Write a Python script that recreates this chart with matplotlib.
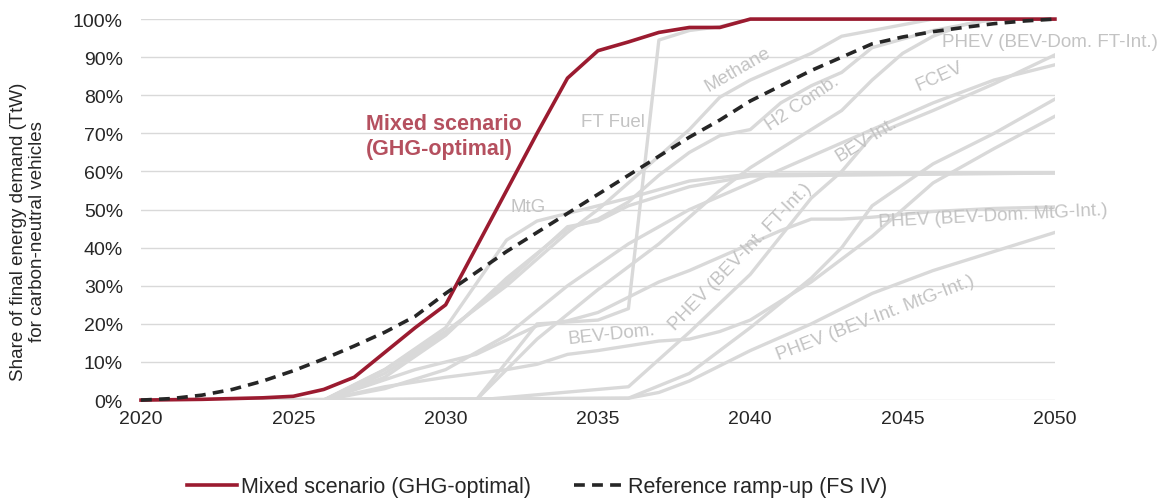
import matplotlib
matplotlib.use("Agg")
import matplotlib.pyplot as plt
from matplotlib.ticker import FuncFormatter

plt.rcParams['font.family'] = ['Liberation Sans', 'DejaVu Sans']

# --- data (share in %) ---
years = list(range(2020, 2051))
mixed = [0, 0.1, 0.2, 0.4, 0.6, 1.0, 2.8, 6.0, 12.5, 19, 25, 40, 55, 70, 84.5, 91.7,
         94, 96.5, 97.8, 97.8, 100, 100, 100, 100, 100, 100, 100, 100, 100, 100, 100]
reference = [0, 0.4, 1.3, 2.8, 5.0, 7.7, 10.8, 14.2, 17.8, 22, 28, 33.5, 39, 44, 49, 54,
             59, 64, 69, 73.5, 78.5, 82.5, 86.5, 90, 93.5, 95.3, 96.7, 97.8, 98.8, 99.5, 100]

ft_fuel_yr = [2020, 2031, 2033, 2035, 2036, 2037, 2038, 2039, 2040, 2050]
ft_fuel = [0, 0, 20, 21, 24, 94.5, 97, 98, 100, 100]

methane_yr = [2020, 2026, 2028, 2030, 2032, 2034, 2035, 2036, 2037, 2038, 2039, 2040, 2042, 2043, 2044, 2046, 2050]
methane = [0, 0, 8, 18, 30, 44, 50, 57, 64, 71, 79.5, 84, 91, 95.5, 97, 100, 100]

h2_comb_yr = [2020, 2026, 2028, 2030, 2032, 2034, 2035, 2036, 2037, 2038, 2039, 2040, 2041, 2042, 2043, 2044, 2046, 2048, 2050]
h2_comb = [0, 0, 6, 17, 32, 45, 47.5, 52, 59, 65, 69.4, 71, 78, 82.5, 86, 92.5, 97, 100, 100]

phev_dom_ft_yr = [2020, 2031, 2033, 2035, 2037, 2039, 2040, 2043, 2044, 2045, 2046, 2047, 2048, 2050]
phev_dom_ft = [0, 0, 16, 29, 41, 55, 61, 76, 84, 91, 95.5, 98.5, 100, 100]

fcev_yr = [2020, 2026, 2028, 2030, 2032, 2034, 2036, 2038, 2040, 2042, 2044, 2046, 2048, 2050]
fcev = [0, 0, 3, 8, 17, 30, 41, 50, 57, 64, 71, 78, 84, 88]

bev_int_yr = [2020, 2031, 2036, 2038, 2040, 2042, 2043, 2044, 2046, 2048, 2050]
bev_int = [0, 0, 3.5, 17.8, 33, 53, 60, 69.4, 76, 83, 90.6]

phev_int_ft_yr = [2020, 2026, 2036, 2038, 2040, 2042, 2043, 2044, 2046, 2048, 2050]
phev_int_ft = [0, 0, 0.5, 7, 19, 32, 40, 51, 62, 70, 79]

bev_dom_yr = [2020, 2026, 2028, 2030, 2032, 2033, 2034, 2035, 2037, 2038, 2039, 2040, 2042, 2044, 2046, 2048, 2050]
bev_dom = [0, 0, 3.5, 6, 8, 9.4, 12, 13, 15.5, 16, 18, 21, 31, 43, 57, 66, 74.5]

mtg_yr = [2020, 2026, 2028, 2030, 2032, 2033, 2034, 2036, 2038, 2040, 2050]
mtg = [0, 0, 8, 19, 42, 47, 49, 53, 57.5, 59.3, 59.6]

other_yr = [2020, 2026, 2028, 2030, 2032, 2034, 2035, 2036, 2038, 2040, 2050]
other = [0, 0, 7, 17.5, 31, 45.5, 47, 51, 56, 58.8, 59.6]

phev_dom_mtg_yr = [2020, 2026, 2029, 2031, 2033, 2034, 2035, 2036, 2037, 2038, 2040, 2041, 2042, 2043, 2044, 2046, 2048, 2050]
phev_dom_mtg = [0, 0, 8, 12, 19.5, 20.8, 23, 27, 31, 34, 41, 44.5, 47.5, 47.5, 48, 49.5, 50.3, 50.7]

phev_int_mtg_yr = [2020, 2036, 2037, 2038, 2040, 2042, 2044, 2046, 2048, 2050]
phev_int_mtg = [0, 0.5, 2, 5, 13, 20, 28, 34, 39, 44]

gray_series = [(ft_fuel_yr, ft_fuel), (methane_yr, methane), (h2_comb_yr, h2_comb),
               (phev_dom_ft_yr, phev_dom_ft), (fcev_yr, fcev), (bev_int_yr, bev_int),
               (phev_int_ft_yr, phev_int_ft), (bev_dom_yr, bev_dom), (mtg_yr, mtg),
               (other_yr, other), (phev_dom_mtg_yr, phev_dom_mtg), (phev_int_mtg_yr, phev_int_mtg)]

# label text, x, y, rotation, ha
gray_labels = [
    ("Methane", 2039.6, 86.9, 30, "center"),
    ("FT Fuel", 2035.5, 73.2, 0, "center"),
    ("MtG", 2032.7, 50.7, 0, "center"),
    ("H2 Comb.", 2041.7, 78.0, 34, "center"),
    ("FCEV", 2046.2, 85.0, 24, "center"),
    ("BEV-Int.", 2043.8, 68.5, 32, "center"),
    ("PHEV (BEV-Dom. FT-Int.)", 2046.3, 94.0, 0, "left"),
    ("PHEV (BEV-Dom. MtG-Int.)", 2044.2, 47.0, 3, "left"),
    ("PHEV (BEV-Int. FT-Int.)", 2039.66, 37.8, 46, "center"),
    ("BEV-Dom.", 2035.46, 17.3, 6, "center"),
    ("PHEV (BEV-Int. MtG-Int.)", 2044.1, 21.8, 21, "center"),
]

red = '#9b1b30'
gray = '#d9d9d9'
label_gray = '#c3c3c3'
dark = '#262626'

fig = plt.figure(figsize=(11.68, 5.02), dpi=100)
ax = fig.add_axes([0.1207, 0.201, 0.7825, 0.759])

for yr, vals in gray_series:
    ax.plot(yr, vals, color=gray, lw=2.4, solid_joinstyle='round', zorder=2)

ax.plot(years, mixed, color=red, lw=2.6, label='Mixed scenario (GHG-optimal)', zorder=4, clip_on=False)
ax.plot(years, reference, color=dark, lw=2.6, ls=(0, (3, 2)),
        label='Reference ramp-up (FS IV)', zorder=5, clip_on=False)

for txt, x, y, rot, ha in gray_labels:
    ax.text(x, y, txt, color=label_gray, fontsize=13.5, rotation=rot, ha=ha, va='center',
            rotation_mode='anchor', zorder=3)

ax.text(2027.38, 69.3, "Mixed scenario\n(GHG-optimal)", color='#b5505f', fontsize=15.5,
        fontweight='bold', ha='left', va='center', linespacing=1.2)

ax.set_xlim(2020, 2050)
ax.set_ylim(0, 100)
ax.set_xticks(range(2020, 2051, 5))
ax.set_yticks(range(0, 101, 10))
ax.yaxis.set_major_formatter(FuncFormatter(lambda v, p: f"{int(v)}%"))
ax.tick_params(length=0, labelsize=14, colors=dark)
ax.tick_params(axis='x', pad=7)
ax.tick_params(axis='y', pad=13)
ax.grid(axis='y', color='#d9d9d9', lw=1)
ax.set_axisbelow(True)
for s in ax.spines.values():
    s.set_visible(False)

fig.text(28 / 1168, 0.538, "Share of final energy demand (TtW)\nfor carbon-neutral vehicles",
         rotation=90, ha='center', va='center', fontsize=13.5, color=dark, linespacing=1.15)

fig.legend(loc='center', bbox_to_anchor=(0.46, 0.028), ncol=2, frameon=False,
           fontsize=15.5, handlelength=2.3, columnspacing=2.0, handletextpad=0.2,
           labelcolor=dark)

fig.savefig("out.png", dpi=100)
